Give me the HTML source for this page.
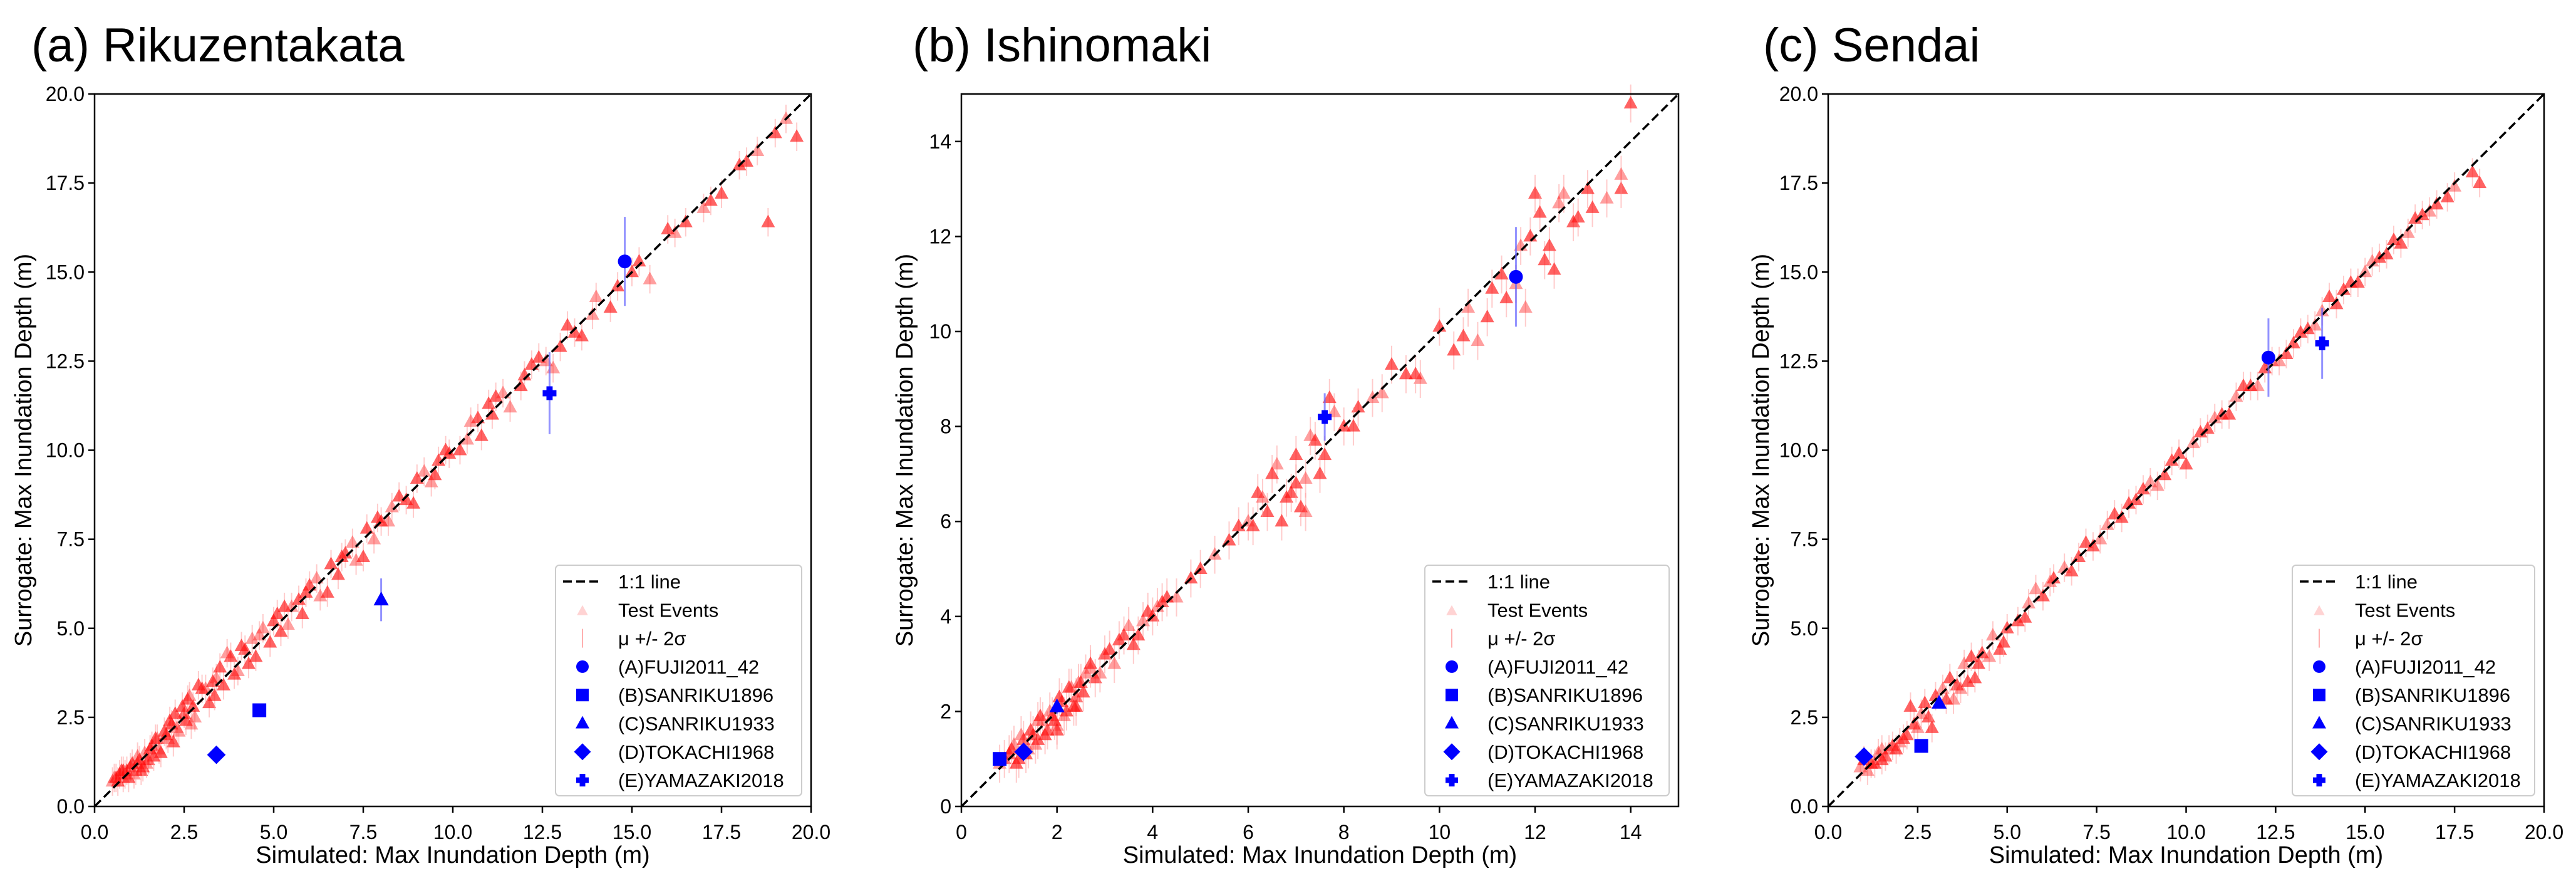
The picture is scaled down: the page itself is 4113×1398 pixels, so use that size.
<!DOCTYPE html>
<html><head><meta charset="utf-8"><style>
html,body{margin:0;padding:0;background:#fff}
svg{display:block;font-family:"Liberation Sans",sans-serif}
</style></head><body>
<svg id="fig" width="4113" height="1398" viewBox="0 0 4113 1398"></svg>
<script>
// ---- data ----
const panelTitles = ["(a) Rikuzentakata","(b) Ishinomaki","(c) Sendai"];
const axisMax = [20, 15, 20];
const tickLabelsA = ["0.0","2.5","5.0","7.5","10.0","12.5","15.0","17.5","20.0"];
const tickLabelsB = ["0","2","4","6","8","10","12","14"];
const tickLabelsC = ["0.0","2.5","5.0","7.5","10.0","12.5","15.0","17.5","20.0"];
const legendLabels = ["1:1 line","Test Events","μ +/- 2σ","(A)FUJI2011_42","(B)SANRIKU1896","(C)SANRIKU1933","(D)TOKACHI1968","(E)YAMAZAKI2018"];
const testSimA = [0.5,0.6,0.7,0.8,0.9,1.0,1.1,1.2,1.3,1.4,1.5,1.6,1.8,2.0,2.1,2.3,2.5,2.6,2.8,3.0,3.2,3.4,3.6,3.8,4.0,4.2,4.5,4.7,5.0,5.2,5.5,5.8,6.0,6.3,6.6,7.0,7.3,7.6,8.0,8.3,8.7,9.0,9.4,9.8,10.2,10.5,10.8,11.2,11.6,12.0,12.4,12.8,13.2,13.6,14.0,14.4,15.0,15.5,16.0,16.5,17.0,17.5,18.0,18.5,18.8,19.0,19.3,19.6,0.8,1.2,1.7,2.2,2.7,3.3,3.9,4.4,5.3,6.8,7.8,9.6,11.0,
 0.55,0.65,0.75,0.85,0.95,1.05,1.15,1.25,1.35,1.45,1.55,1.65,1.75,1.85,1.95,2.05,2.15,2.25,2.35,2.45,2.55,2.65,2.75,2.9,3.1,3.35,3.5,3.7,4.1,4.3,4.6,4.9,5.1,5.4,5.7,5.9,6.2,6.5,6.9,7.2,7.5,7.9,8.2,8.5,8.9,9.2,9.5,9.9,10.4,10.7,11.1,11.4,11.9,12.2,12.6,13.0,13.4,13.9,14.6,15.2,16.2,17.2,18.2];
const testSurA = [0.7,0.8,0.9,0.8,1.0,1.1,0.9,1.2,1.0,1.5,1.3,1.7,1.6,2.0,2.4,2.2,2.6,3.0,2.5,3.3,2.9,3.6,3.4,4.2,3.8,4.4,4.2,5.0,5.2,4.9,5.6,5.4,6.2,5.9,6.8,7.1,6.9,7.8,8.0,8.4,8.6,9.2,9.1,10.0,10.0,10.8,10.4,11.5,11.2,12.1,12.6,12.3,13.5,13.2,14.3,14.0,15.0,14.8,16.2,16.4,16.8,17.2,18.0,18.4,16.4,18.9,19.3,18.8,1.0,1.4,1.9,1.8,2.3,3.5,3.7,4.7,5.6,6.5,7.5,9.7,11.3,
 0.8,0.7,1.0,0.9,0.8,1.2,1.0,1.3,1.1,1.2,1.6,1.4,1.9,1.5,2.1,1.9,2.3,2.6,2.1,2.8,2.4,3.1,2.8,3.4,3.3,3.1,3.9,4.3,4.5,4.0,4.8,4.6,5.4,5.1,5.8,6.0,6.4,6.0,7.0,7.4,7.0,8.1,8.0,8.7,8.5,9.4,9.3,9.9,10.3,10.9,11.0,11.6,11.8,12.4,12.5,12.9,13.3,13.8,14.6,15.3,16.1,17.0,18.1];
const testSimB = [0.8,0.9,1.0,1.1,1.2,1.3,1.4,1.5,1.6,1.7,1.8,1.9,2.0,2.1,2.2,2.3,2.4,2.5,2.6,2.8,3.0,3.2,3.4,3.6,3.8,4.0,4.2,4.5,4.8,5.0,5.3,5.6,5.8,6.0,6.2,6.4,6.6,6.8,7.0,7.2,7.4,7.6,7.8,8.0,8.3,8.6,9.0,9.3,9.6,10.0,10.3,10.6,11.0,11.3,11.6,11.9,12.2,12.5,12.8,13.2,13.5,13.8,14.0,1.6,2.0,2.4,2.7,6.5,6.9,7.3,7.1,7.7,11.8,12.0,12.4,13.8,
 1.05,1.15,1.25,1.35,1.45,1.55,1.65,1.75,1.85,1.95,2.05,2.15,2.25,2.35,2.45,2.55,2.7,2.9,3.1,3.3,3.5,3.7,3.9,4.1,4.3,6.1,6.3,6.7,7.0,7.2,7.5,8.2,8.8,9.5,10.5,10.8,11.1,11.4,11.7,12.1,12.3,12.6,12.9,13.1];
const testSurB = [0.9,1.0,1.1,1.3,1.0,1.4,1.2,1.5,1.4,1.8,1.6,1.9,1.7,2.2,2.0,2.5,2.3,2.6,2.8,2.7,3.2,3.0,3.6,3.4,3.9,4.0,4.3,4.4,4.8,5.0,5.3,5.6,5.9,6.0,6.6,6.2,7.2,6.5,7.4,6.9,7.7,7.4,8.3,8.0,8.4,8.6,9.3,9.1,9.0,10.1,9.6,10.5,10.3,11.2,11.0,12.0,11.5,12.7,12.3,12.6,12.8,13.0,14.8,1.8,1.6,2.1,2.9,7.0,6.6,7.8,6.3,8.6,10.5,12.9,11.3,13.3,
 1.2,0.9,1.5,1.1,1.6,1.3,1.9,1.5,2.0,1.8,2.3,1.9,2.5,2.1,2.6,2.4,3.0,2.8,3.3,3.5,3.8,3.6,4.1,4.2,4.4,5.9,6.5,6.0,6.8,6.2,7.0,8.0,8.7,9.1,9.9,9.8,10.9,10.7,11.8,12.5,11.8,12.9,12.4,13.0];
const testSimC = [0.9,1.0,1.2,1.4,1.6,1.8,2.0,2.2,2.4,2.6,2.8,3.0,3.2,3.4,3.6,3.8,4.0,4.3,4.6,5.0,5.3,5.6,6.0,6.3,6.6,7.0,7.4,7.8,8.2,8.6,9.0,9.4,9.8,10.2,10.6,11.0,11.4,11.8,12.2,12.6,13.0,13.4,13.8,14.2,14.6,15.0,15.4,15.8,16.2,16.6,17.0,17.5,18.0,18.2,1.5,2.3,2.9,3.5,4.1,4.8,5.8,8.0,10.0,12.0,14.0,16.0,
 1.1,1.3,1.5,1.7,1.9,2.1,2.5,2.7,3.3,3.7,3.9,4.2,4.5,4.9,5.5,6.2,6.8,7.2,7.6,8.4,8.8,9.2,9.6,10.4,10.8,11.2,11.6,12.4,12.8,13.2,13.6,14.4,14.8,15.2,15.6,16.4,16.8,17.3];
const testSurC = [1.1,1.3,1.2,1.5,1.4,1.7,1.8,2.0,2.3,2.6,2.5,3.1,3.3,3.6,3.4,4.0,4.2,4.3,4.8,5.0,5.2,5.7,5.9,6.4,6.7,7.0,7.3,7.9,8.1,8.6,9.1,9.3,9.9,10.2,10.6,11.0,11.5,11.8,12.3,12.5,13.0,13.4,13.9,14.1,14.7,15.0,15.4,15.9,16.1,16.6,16.9,17.4,17.8,17.5,1.6,2.8,2.2,3.0,3.6,4.4,6.1,8.2,9.6,11.8,14.3,15.8,
 1.0,1.2,1.3,1.6,1.6,1.9,2.2,2.9,3.0,3.3,3.5,4.0,4.2,4.6,5.3,6.3,6.6,7.4,7.5,8.5,8.9,9.0,9.7,10.5,10.9,11.0,11.8,12.5,12.7,13.3,13.5,14.5,14.7,15.3,15.5,16.5,16.7,17.1];
const histSimA = [14.8,4.6,8.0,3.4,12.7];
const histSurA = [15.3,2.7,5.8,1.45,11.6];
const histErrA = [1.25,0.1,0.6,0.1,1.15];
const histSimB = [11.6,0.8,2.0,1.3,7.6];
const histSurB = [11.15,1.0,2.1,1.15,8.2];
const histErrB = [1.05,0.1,0.15,0.1,0.5];
const histSimC = [12.3,2.6,3.1,1.0,13.8];
const histSurC = [12.6,1.7,2.9,1.4,13.0];
const histErrC = [1.1,0.1,0.15,0.1,1.0];

const NS="http://www.w3.org/2000/svg";
const svg=document.getElementById('fig');
function mk(tag,attrs,parent){const e=document.createElementNS(NS,tag);for(const k in attrs)e.setAttribute(k,attrs[k]);(parent||svg).appendChild(e);return e;}
function marker(kind,cx,cy,s,fill,parent,extra){
  let e;
  if(kind===0){e=mk('circle',{cx:cx,cy:cy,r:s},parent);}
  else if(kind===1){e=mk('rect',{x:cx-s,y:cy-s,width:2*s,height:2*s},parent);}
  else if(kind===2){e=mk('polygon',{points:`${cx},${cy-s*1.2} ${cx-s*1.1},${cy+s*0.8} ${cx+s*1.1},${cy+s*0.8}`},parent);}
  else if(kind===3){e=mk('polygon',{points:`${cx},${cy-s*1.35} ${cx+s*1.35},${cy} ${cx},${cy+s*1.35} ${cx-s*1.35},${cy}`},parent);}
  else {const a=s*0.45;e=mk('path',{d:`M${cx-a},${cy-s}h${2*a}v${s-a}h${s-a}v${2*a}h${-(s-a)}v${s-a}h${-2*a}v${-(s-a)}h${-(s-a)}v${-2*a}h${s-a}z`},parent);}
  e.setAttribute('fill',fill);
  if(extra)for(const k in extra)e.setAttribute(k,extra[k]);
  return e;
}
const panels=[
 {L:151,R:1295,tl:50,ticks:tickLabelsA,tickStep:2.5,sim:testSimA,sur:testSurA,hs:histSimA,hy:histSurA,he:histErrA,ylx:38,legX:887},
 {L:1535,R:2680,tl:1457,ticks:tickLabelsB,tickStep:2,sim:testSimB,sur:testSurB,hs:histSimB,hy:histSurB,he:histErrB,ylx:1445,legX:2275},
 {L:2919,R:4062,tl:2815,ticks:tickLabelsC,tickStep:2.5,sim:testSimC,sur:testSurC,hs:histSimC,hy:histSurC,he:histErrC,ylx:2812,legX:3660}
];
const T=150,B=1287;
panels.forEach((p,pi)=>{
  const g=mk('g',{});
  
  
  const max=axisMax[pi];
  const sx=v=>p.L+(v/max)*(p.R-p.L);
  const sy=v=>B-(v/max)*(B-T);
  const title=mk('text',{x:p.tl,y:98,'font-size':76},g);title.textContent=panelTitles[pi];
  
  
  p.ticks.forEach((lab,i)=>{
    const v=i*p.tickStep;
    mk('line',{x1:sx(v),x2:sx(v),y1:B,y2:B+10,stroke:'#000','stroke-width':2.5},g);
    const tx=mk('text',{x:sx(v),y:B+52,'font-size':32,'text-anchor':'middle'},g);tx.textContent=lab;
    
    
    mk('line',{x1:p.L-10,x2:p.L,y1:sy(v),y2:sy(v),stroke:'#000','stroke-width':2.5},g);
    const ty=mk('text',{x:p.L-16,y:sy(v)+11,'font-size':32,'text-anchor':'end'},g);ty.textContent=lab;
    
    
  });
  const xl=mk('text',{x:(p.L+p.R)/2,y:1377,'font-size':38,'text-anchor':'middle'},g);xl.textContent='Simulated: Max Inundation Depth (m)';
  
  
  const yl=mk('text',{x:0,y:0,'font-size':38,'text-anchor':'middle',transform:`translate(${p.ylx+12},${(T+B)/2}) rotate(-90)`},g);yl.textContent='Surrogate: Max Inundation Depth (m)';
  
  
  p.sim.forEach((x,i)=>{
    const y=p.sur[i];
    mk('line',{x1:sx(x),x2:sx(x),y1:sy(y+0.4),y2:sy(y-0.4),stroke:'#ff9999','stroke-width':2,opacity:0.5},g);
    const m=marker(2,sx(x),sy(y),10,'#ff1010',g,{opacity:(i%3===0?0.4:0.65)});
    
    
  });
  const ln=mk('line',{x1:sx(0),y1:sy(0),x2:sx(max),y2:sy(max),stroke:'#000','stroke-width':3.5,'stroke-dasharray':'14,7'},g);
  
  
  p.hs.forEach((x,i)=>{
    const y=p.hy[i];
    mk('line',{x1:sx(x),x2:sx(x),y1:sy(y+p.he[i]),y2:sy(y-p.he[i]),stroke:'#6666ff','stroke-width':3,opacity:0.7},g);
    const m=marker(i,sx(x),sy(y),11,'#0000ff',g);
    
    
  });
  mk('rect',{x:p.L,y:T,width:p.R-p.L,height:B-T,fill:'none',stroke:'#000','stroke-width':2.5},g);
  const lg=mk('g',{},g);
  
  
  const lx=p.legX,ly=902;
  mk('rect',{x:lx,y:ly,width:p.R-15-lx,height:368,rx:6,fill:'#fff','fill-opacity':0.85,stroke:'#ccc','stroke-width':2},lg);
  legendLabels.forEach((lab,i)=>{
    const cy=ly+26+i*45.3;
    const mx=lx+43;
    if(i===0)mk('line',{x1:lx+12,x2:lx+74,y1:cy,y2:cy,stroke:'#000','stroke-width':3.5,'stroke-dasharray':'14,7'},lg);
    else if(i===1)marker(2,mx,cy+2,8,'#ff8080',lg,{opacity:0.35});
    else if(i===2)mk('line',{x1:mx,x2:mx,y1:cy-15,y2:cy+15,stroke:'#ffb0b0','stroke-width':2},lg);
    else marker(i-3,mx,cy,10,'#0000ff',lg);
    const t=mk('text',{x:lx+100,y:cy+11,'font-size':31},lg);t.textContent=lab;
    
    
  });
});
</script>
</body></html>
